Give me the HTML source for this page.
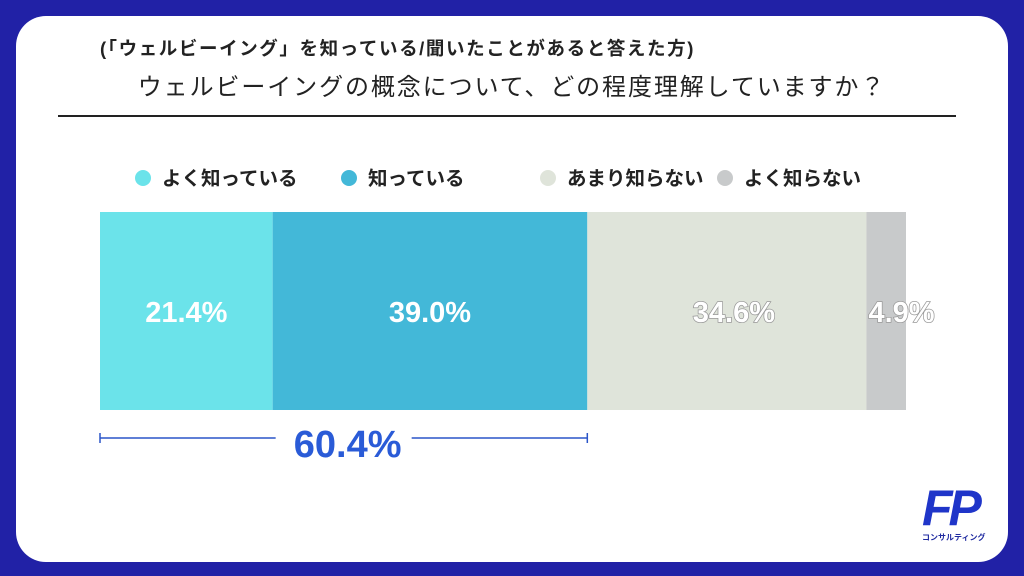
<!DOCTYPE html>
<html><head><meta charset="utf-8"><style>
body{margin:0;width:1024px;height:576px;background:#2121a6;overflow:hidden;font-family:"Liberation Sans","Noto Sans CJK JP",sans-serif}
#card{position:absolute;left:16px;top:16px;width:992px;height:546px;background:#fff;border-radius:30px}
.t{position:absolute;white-space:nowrap}
</style></head><body>
<div id="card"></div>
<div class="t" style="left:100px;top:35px;font-size:18.5px;font-weight:bold;color:#222;letter-spacing:1.6px">(「ウェルビーイング」を知っている/聞いたことがあると答えた方)</div>
<div class="t" style="left:0;width:1024px;text-align:center;top:67px;font-size:24px;color:#222;letter-spacing:1.9px">ウェルビーイングの概念について、どの程度理解していますか？</div>
<div style="position:absolute;left:58px;top:115px;width:898px;height:2px;background:#222"></div>
<svg id="chart" width="1024" height="576" style="position:absolute;left:0;top:0"></svg>
<div style="position:absolute;left:922px;top:484px;width:70px;height:58px">
<div style="font:italic bold 50px 'Liberation Sans',sans-serif;color:#1f35c9;line-height:48px;letter-spacing:-4px">FP</div>
<div style="font:bold 8px 'Liberation Sans','Noto Sans CJK JP',sans-serif;color:#1f2aa0;white-space:nowrap">コンサルティング</div></div>
<script>
const categories=["よく知っている","知っている","あまり知らない","よく知らない"];
const values=[21.4,39.0,34.6,4.9];
const colors=["#6be3ea","#43b8d8","#dfe4da","#c8cacb"];
const legendX=[135,341,540,717];
const svg=document.getElementById('chart');const NS="http://www.w3.org/2000/svg";
const x0=100,x1=906,y0=212,h=198;
const total=values.reduce((a,b)=>a+b,0);
const sx=v=>v/total*(x1-x0);
function mk(t,a){const e=document.createElementNS(NS,t);for(const k in a)e.setAttribute(k,a[k]);svg.appendChild(e);return e;}
let cx=x0;
values.forEach((v,i)=>{
 const w=sx(v);
 const r=mk('rect',{x:cx,y:y0,width:w,height:h,fill:colors[i]});
 
 
 const small=w<60;
 const t=mk('text',{x:small?cx+2:cx+w/2+(i>=2?7:0),y:y0+h/2+11,'text-anchor':small?'start':'middle','font-size':29,'font-weight':'bold','font-family':'Liberation Sans, sans-serif',fill:'#fff'});
 if(i>=2){t.setAttribute('stroke','#999');t.setAttribute('stroke-width','1.5');t.setAttribute('paint-order','stroke');}
 t.textContent=v.toFixed(1)+'%';
 
 
 cx+=w;
 const c=mk('circle',{cx:legendX[i]+8,cy:178,r:8,fill:colors[i]});
 
 
 const lt=mk('text',{x:legendX[i]+27,y:185,'font-size':19.5,'font-weight':'bold','font-family':'Liberation Sans, Noto Sans CJK JP, sans-serif',fill:'#222'});
 lt.textContent=categories[i];
 
 
});
const sum=values[0]+values[1];
const bx=x0+sx(sum),mid=(x0+bx)/2;
const g=mk('g',{stroke:'#2a55c8','stroke-width':1.5});


[[x0,438,mid-68,438],[mid+68,438,bx,438],[x0,433,x0,443],[bx,433,bx,443]].forEach(l=>{const e=document.createElementNS(NS,'line');e.setAttribute('x1',l[0]);e.setAttribute('y1',l[1]);e.setAttribute('x2',l[2]);e.setAttribute('y2',l[3]);g.appendChild(e);});
const st=mk('text',{x:mid+4,y:457,'text-anchor':'middle','font-size':38,'font-weight':'bold','font-family':'Liberation Sans, sans-serif',fill:'#2a5bd7'});
st.textContent=sum.toFixed(1)+'%';


</script>
</body></html>
